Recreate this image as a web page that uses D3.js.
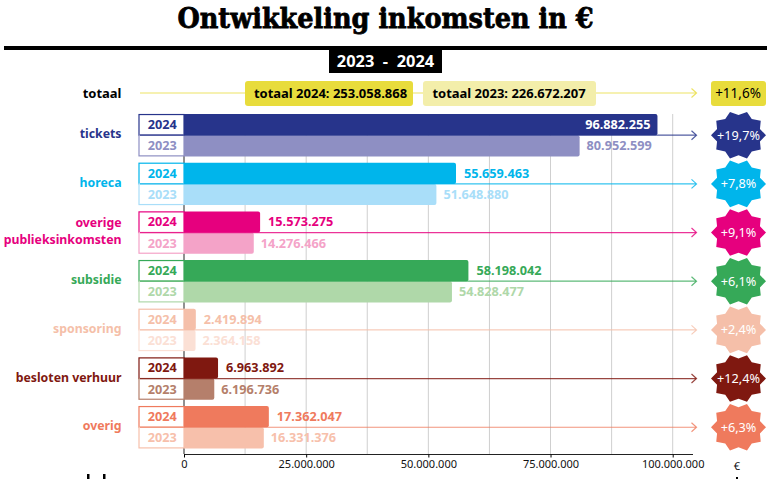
<!DOCTYPE html>
<html>
<head>
<meta charset="utf-8">
<script src="https://cdn.jsdelivr.net/npm/d3@7"></script>
<style>
  html, body { margin: 0; padding: 0; background: #fff; overflow: hidden; }
  text { font-family: "Noto Sans", sans-serif; }
</style>
</head>
<body>
<div id="chart"></div>
<script>
const categories = ['tickets', 'horeca', 'overige publieksinkomsten', 'subsidie', 'sponsoring', 'besloten verhuur', 'overig']
const values2024 = [96882255, 55659463, 15573275, 58198042, 2419894, 6963892, 17362047]
const values2023 = [80952599, 51648880, 14276466, 54828477, 2364158, 6196736, 16331376]
const changes = ['+19,7%', '+7,8%', '+9,1%', '+6,1%', '+2,4%', '+12,4%', '+6,3%']
const colors2024 = ['#27348b', '#00b5eb', '#e6007e', '#36a958', '#f5bfa9', '#7f1810', '#ef7a5d']
const colors2023 = ['#8e8fc3', '#a9def9', '#f4a3c8', '#afd8a9', '#fbe0d5', '#b57f6b', '#f7c0ab']
const xTicks = [0, 25000000, 50000000, 75000000, 100000000]
const gridTicks = [12500000, 25000000, 37500000, 50000000, 62500000, 75000000, 87500000, 100000000]
const total2024 = 'totaal 2024: 253.058.868'
const total2023 = 'totaal 2023: 226.672.207'
const totalChange = '+11,6%'

const width = 769
const height = 479

const svg = d3.select('#chart').append('svg')
  .attr('width', width)
  .attr('height', height)
  .style('display', 'block')

const fmt = n => d3.format(',')(n).replace(/,/g, '.')

const x = d3.scaleLinear().domain([0, 100000000]).range([184, 672.7])
const y = d3.scaleBand().domain(categories).range([110.87, 451.57]).paddingInner(0.13).paddingOuter(0.065)

// title
svg.append('text')
  .attr('x', 385.5).attr('y', 28)
  .attr('text-anchor', 'middle')
  .style('font-family', '"DejaVu Serif", serif')
  .attr('font-weight', 700)
  .attr('font-size', 28)
  .attr('textLength', 416)
  .attr('lengthAdjust', 'spacingAndGlyphs')
  .attr('stroke', '#000')
  .attr('stroke-width', 0.8)
  .text('Ontwikkeling inkomsten in €')

svg.append('rect').attr('x', 4).attr('y', 46).attr('width', 763).attr('height', 4).attr('fill', '#000')
svg.append('rect').attr('x', 329).attr('y', 50).attr('width', 113).attr('height', 23).attr('fill', '#000')
svg.append('text').attr('x', 385.5).attr('y', 66.5).attr('text-anchor', 'middle')
  .attr('fill', '#fff').attr('font-weight', 700).attr('font-size', 16.4)
  .style('white-space', 'pre').text('2023  -  2024')

// grid
svg.selectAll('.grid').data(gridTicks).enter().append('line')
  .attr('class', 'grid')
  .attr('x1', d => x(d)).attr('x2', d => x(d))
  .attr('y1', 114).attr('y2', 454)
  .attr('stroke', '#cfcfcf').attr('stroke-width', 1)

svg.append('line').attr('x1', x(0)).attr('x2', x(0)).attr('y1', 114).attr('y2', 454).attr('stroke', '#222')

// total row
const totalY = 93
const arrow = (g, yy, color, x1) => {
  g.append('line').attr('x1', x1).attr('x2', 696).attr('y1', yy).attr('y2', yy)
    .attr('stroke', color).attr('stroke-width', 1.2).attr('stroke-opacity', 0.8)
  g.append('path').attr('d', `M691.5,${yy - 4.5}L696.5,${yy}L691.5,${yy + 4.5}`)
    .attr('fill', 'none').attr('stroke', color).attr('stroke-width', 1.2).attr('stroke-opacity', 0.8)
}
arrow(svg, totalY, '#e8dc3c', 140)
svg.append('text').attr('x', 121.5).attr('y', totalY + 5).attr('text-anchor', 'end')
  .attr('font-weight', 700).attr('font-size', 13).attr('fill', '#000').text('totaal')

svg.append('rect').attr('x', 245).attr('y', 81).attr('width', 168).attr('height', 25).attr('rx', 3).attr('fill', '#e8dc3c')
svg.append('text').attr('x', 330.5).attr('y', totalY + 5).attr('text-anchor', 'middle')
  .attr('font-weight', 700).attr('font-size', 13).attr('fill', '#000').text(total2024)
svg.append('rect').attr('x', 423).attr('y', 81).attr('width', 173).attr('height', 25).attr('rx', 3).attr('fill', '#f3eeaa')
svg.append('text').attr('x', 509).attr('y', totalY + 5).attr('text-anchor', 'middle')
  .attr('font-weight', 700).attr('font-size', 13).attr('fill', '#000').text(total2023)
svg.append('rect').attr('x', 711).attr('y', 81).attr('width', 55).attr('height', 25).attr('rx', 3).attr('fill', '#e8dc3c')
svg.append('text').attr('x', 738).attr('y', totalY + 5).attr('text-anchor', 'middle')
  .attr('font-size', 13.5).attr('fill', '#000').text(totalChange)

// rows
const starPoints = []
for (let i = 0; i < 20; i++) {
  const a = i * Math.PI / 10
  const r = i % 2 === 0 ? 1 : 0.82
  starPoints.push([Math.cos(a) * r * 27.5, Math.sin(a) * r * 24.5])
}

const labelLines = { 'overige publieksinkomsten': ['overige', 'publieksinkomsten'] }

categories.forEach((cat, i) => {
  const top = y(cat)
  const h = y.bandwidth() / 2
  const mid = top + h
  const g = svg.append('g')

  // boxes with the years
  g.append('rect').attr('x', 139).attr('y', top + 0.5).attr('width', 45).attr('height', h - 0.5)
    .attr('fill', '#fff').attr('stroke', colors2024[i]).attr('stroke-width', 1.2)
  g.append('rect').attr('x', 139).attr('y', mid).attr('width', 45).attr('height', h - 0.5)
    .attr('fill', '#fff').attr('stroke', colors2023[i]).attr('stroke-width', 1.2)
  g.append('text').attr('x', 176.7).attr('y', top + h / 2 + 4.5).attr('text-anchor', 'end')
    .attr('font-weight', 700).attr('font-size', 12.7).attr('fill', colors2024[i]).text('2024')
  g.append('text').attr('x', 176.7).attr('y', mid + h / 2 + 4.5).attr('text-anchor', 'end')
    .attr('font-weight', 700).attr('font-size', 12.7).attr('fill', colors2023[i]).text('2023')

  // bars
  const bar = (val, yy, fill) => {
    const w = x(val) - x(0)
    g.append('path')
      .attr('d', `M${x(0)},${yy}H${x(0) + w - 2}Q${x(0) + w},${yy} ${x(0) + w},${yy + 2}V${yy + h - 2}Q${x(0) + w},${yy + h} ${x(0) + w - 2},${yy + h}H${x(0)}Z`)
      .attr('fill', fill)
  }
  bar(values2023[i], mid, colors2023[i])
  bar(values2024[i], top, colors2024[i])

  // arrow
  arrow(g, mid, colors2024[i], 140)

  // value labels
  const inside = values2024[i] > 90000000
  g.append('text')
    .attr('x', inside ? x(values2024[i]) - 7 : x(values2024[i]) + 8)
    .attr('y', top + h / 2 + 4.5)
    .attr('text-anchor', inside ? 'end' : 'start')
    .attr('font-weight', 700).attr('font-size', 12.7)
    .attr('fill', inside ? '#fff' : colors2024[i])
    .text(fmt(values2024[i]))
  g.append('text')
    .attr('x', x(values2023[i]) + 7)
    .attr('y', mid + h / 2 + 4.5)
    .attr('font-weight', 700).attr('font-size', 12.7)
    .attr('fill', colors2023[i])
    .text(fmt(values2023[i]))

  // category label
  const lines = labelLines[cat] || [cat]
  lines.forEach((l, j) => {
    g.append('text')
      .attr('x', 121.5)
      .attr('y', mid + 3 + (j - (lines.length - 1) / 2) * 16.5)
      .attr('text-anchor', 'end')
      .attr('font-weight', 700).attr('font-size', 12.3)
      .attr('fill', colors2024[i])
      .text(l)
  })

  // star
  const star = g.append('g').attr('transform', `translate(738.5,${mid})`)
  star.append('path')
    .attr('d', d3.line().curve(d3.curveLinearClosed)(starPoints))
    .attr('fill', colors2024[i])
  star.append('text').attr('y', 4.5).attr('text-anchor', 'middle')
    .attr('font-size', 12.7).attr('fill', '#fff').text(changes[i])
})

// axis
const axis = d3.axisBottom(x)
  .tickValues(xTicks)
  .tickFormat(d => fmt(d))
  .tickSize(3)
const axisG = svg.append('g').attr('transform', 'translate(0,454.5)').call(axis)
axisG.select('.domain').attr('stroke', '#222').attr('stroke-width', 1)
  .attr('d', 'M184,0H693')
axisG.selectAll('text').attr('font-size', 11).style('font-family', '"Noto Sans", sans-serif').attr('fill', '#111').attr('y', 5.5)

svg.append('text').attr('x', 737).attr('y', 470).attr('text-anchor', 'middle').attr('font-size', 11).attr('fill', '#111').text('€')

// top of the next block, cut off by the page edge
svg.append('rect').attr('x', 87).attr('y', 474).attr('width', 2.5).attr('height', 5).attr('fill', '#000')
svg.append('rect').attr('x', 103).attr('y', 474).attr('width', 2.5).attr('height', 5).attr('fill', '#000')
svg.append('rect').attr('x', 736).attr('y', 477).attr('width', 2).attr('height', 2).attr('fill', '#000')
</script>
</body>
</html>
